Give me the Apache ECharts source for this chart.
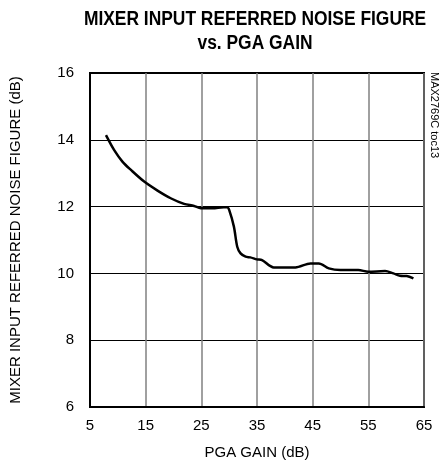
<!DOCTYPE html>
<html>
<head>
<meta charset="utf-8">
<script src="https://cdn.jsdelivr.net/npm/echarts@6/dist/echarts.min.js"></script>
<style>html,body{margin:0;padding:0;background:#fff}#c{width:448px;height:473px}</style>
</head>
<body>
<div id="c"></div>
<script>
var gain = [7.87, 9.35, 10.86, 12.34, 14.73, 17.13, 19.5, 21.9, 23.7, 24.9, 27.0, 29.05, 29.65, 30.0, 30.85, 31.45, 32.05, 32.95, 33.8, 35.0, 35.9, 38.0, 41.9, 44.6, 46.1, 47.9, 50.0, 53.2, 55.0, 58.0, 59.5, 60.7, 61.9, 63.1];
var noiseFigure = [14.14, 13.69, 13.34, 13.10, 12.75, 12.48, 12.25, 12.08, 12.02, 11.95, 11.95, 11.98, 11.98, 11.9, 11.4, 10.8, 10.6, 10.5, 10.48, 10.42, 10.4, 10.18, 10.18, 10.3, 10.3, 10.15, 10.1, 10.1, 10.05, 10.07, 10.0, 9.93, 9.92, 9.85];
var titleLines = ["MIXER INPUT REFERRED NOISE FIGURE", "vs. PGA GAIN"];
var xName = "PGA GAIN (dB)";
var yName = "MIXER INPUT REFERRED NOISE FIGURE (dB)";
var sideNote = "MAX2769C toc13";

var FONT = "'Liberation Sans', Arial, sans-serif";
var chart = echarts.init(document.getElementById('c'));
var titleStyle = {fontFamily: FONT, fontWeight: 'bold', fontSize: 20, fill: '#000', textAlign: 'center', textVerticalAlign: 'middle'};
chart.setOption({
  animation: false,
  backgroundColor: '#fff',
  grid: {left: 89, top: 73, right: 24, bottom: 66, show: true, borderColor: '#000', borderWidth: 2, backgroundColor: 'transparent'},
  xAxis: {
    type: 'value', min: 5, max: 65, interval: 10,
    name: xName, nameLocation: 'middle', nameGap: 38,
    nameTextStyle: {fontFamily: FONT, fontSize: 15, color: '#000'},
    axisLine: {show: true, lineStyle: {color: '#000', width: 2}},
    axisTick: {show: false},
    axisLabel: {fontFamily: FONT, fontSize: 15, color: '#000', margin: 11},
    splitLine: {show: true, lineStyle: {color: '#808080', width: 1.5}}
  },
  yAxis: {
    type: 'value', min: 6, max: 16, interval: 2,
    name: yName, nameLocation: 'middle', nameGap: 67,
    nameTextStyle: {fontFamily: FONT, fontSize: 15, color: '#000'},
    axisLine: {show: true, lineStyle: {color: '#000', width: 2}},
    axisTick: {show: false},
    axisLabel: {fontFamily: FONT, fontSize: 15, color: '#000', margin: 16},
    splitLine: {show: true, lineStyle: {color: '#000', width: 1}}
  },
  graphic: [{
    type: 'text', x: 255, y: 19, scaleX: 0.87,
    style: Object.assign({text: titleLines[0]}, titleStyle)
  }, {
    type: 'text', x: 255, y: 43, scaleX: 0.87,
    style: Object.assign({text: titleLines[1]}, titleStyle)
  }, {
    type: 'text', x: 434, y: 72, rotation: -Math.PI / 2,
    style: {text: sideNote, fontFamily: FONT, fontSize: 11, fill: '#000', textAlign: 'left', textVerticalAlign: 'middle'}
  }],
  series: [{
    type: 'line', smooth: 0.3, showSymbol: false,
    data: gain.map(function (g, i) { return [g, noiseFigure[i]]; }),
    lineStyle: {color: '#000', width: 2.5}
  }]
});
</script>
</body>
</html>
